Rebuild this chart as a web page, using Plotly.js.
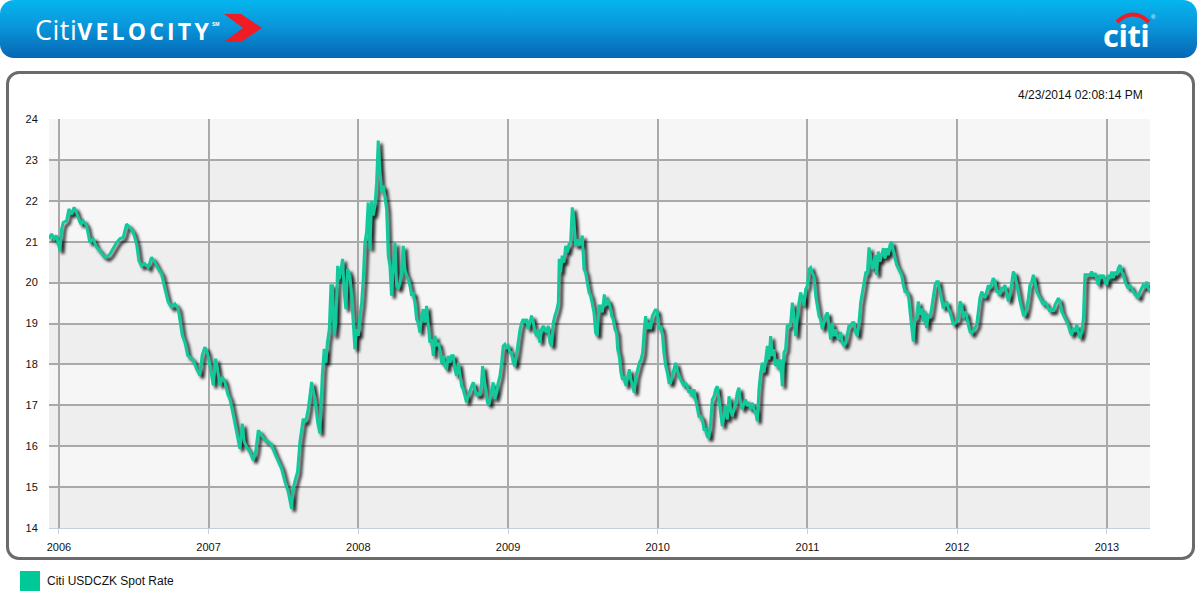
<!DOCTYPE html>
<html>
<head>
<meta charset="utf-8">
<script src="https://cdn.plot.ly/plotly-3.0.1.min.js"></script>
<style>
  html, body { margin:0; padding:0; background:#fff; width:1200px; height:607px; overflow:hidden; font-family:"Liberation Sans", Arial, sans-serif; }
  #hdr { position:absolute; left:0; top:0; width:1197px; height:58px; border-radius:14px;
         background:linear-gradient(to bottom, #05b6ee 0%, #0996da 45%, #0566b4 100%); z-index:5; }
  #brand { position:absolute; left:35px; top:11px; color:#fff; white-space:nowrap; }
  #brand .c { font-family:"Open Sans", sans-serif; font-weight:400; font-size:27px; letter-spacing:0.5px; }
  #brand .v { font-family:"Open Sans", sans-serif; font-weight:700; font-size:23px; letter-spacing:3.2px; }
  #brand .sm { font-size:5px; vertical-align:14px; font-weight:700; }
  #chev { position:absolute; left:224px; top:14px; }
  #logo { position:absolute; left:1103px; top:14px; color:#fff; font-family:"Open Sans", sans-serif; font-weight:700; font-size:31px; letter-spacing:-0.5px; }
  #arc { position:absolute; left:1114px; top:10px; }
  #reg { position:absolute; left:1151px; top:14px; color:#fff; font-size:6px; }
  #frame { position:absolute; left:6px; top:71px; width:1183px; height:483px; border:3px solid #6b6b6b; border-radius:13px; z-index:0; }
  #chart { position:absolute; left:0; top:0; width:1200px; height:607px; z-index:1; }
  #stamp { position:absolute; left:1018px; top:88px; font-size:12px; color:#111; z-index:2; }
  #leg { position:absolute; left:20px; top:571px; z-index:2; font-size:12px; color:#111; }
  #leg .sq { position:absolute; left:0; top:0; width:20px; height:20px; background:#00c896; }
  #leg .tx { position:absolute; left:27px; top:3px; white-space:nowrap; }
  #chart .scatterlayer .js-line { filter: drop-shadow(3px 3px 1.6px rgba(0,0,0,0.85)); }
</style>
</head>
<body>
<div id="hdr">
  <div id="brand"><span class="c">Citi</span><span class="v">VELOCITY</span><span class="sm">SM</span></div>
  <svg id="chev" width="40" height="30" viewBox="0 0 40 30"><polygon points="0,0 17,0 38,14 17,28 0,28 19,14" fill="#ee1c25"/></svg>
  <svg id="arc" width="38" height="14" viewBox="0 0 38 14"><path d="M3,12 Q19,-3 35,12" stroke="#ee1c25" stroke-width="4" fill="none"/></svg>
  <div id="logo">citi</div>
  <div id="reg">®</div>
</div>
<div id="frame"></div>
<div id="stamp">4/23/2014 02:08:14 PM</div>
<div id="chart"></div>
<div id="leg"><div class="sq"></div><div class="tx">Citi USDCZK Spot Rate</div></div>
<script>
// Decimal-year dates as labelled on the chart's axis
const dates = [
2005.933,2005.951,2005.969,2005.984,2006.007,2006.018,2006.029,2006.051,2006.067,2006.085,2006.102,2006.118,2006.129,2006.147,2006.163,2006.185,2006.207,2006.229,2006.252,2006.274,
2006.296,2006.318,2006.341,2006.363,2006.385,2006.407,2006.430,2006.452,2006.474,2006.497,2006.519,2006.534,2006.552,2006.574,2006.597,2006.619,2006.641,2006.664,2006.686,2006.708,
2006.730,2006.753,2006.775,2006.797,2006.808,2006.824,2006.842,2006.860,2006.875,2006.897,2006.920,2006.942,2006.957,2006.975,2006.991,2007.009,2007.031,2007.047,2007.060,2007.076,
2007.091,2007.109,2007.127,2007.142,2007.165,2007.187,2007.209,2007.225,2007.238,2007.254,2007.276,2007.298,2007.314,2007.332,2007.354,2007.376,2007.398,2007.421,2007.443,2007.465,
2007.487,2007.510,2007.532,2007.554,2007.565,2007.581,2007.594,2007.610,2007.632,2007.648,2007.666,2007.688,2007.710,2007.728,2007.743,2007.759,2007.772,
2007.784,2007.793,2007.806,2007.817,2007.828,2007.839,2007.850,2007.862,2007.873,2007.884,2007.895,2007.906,2007.917,2007.928,2007.944,2007.955,2007.966,2007.977,2007.988,2008.000,
2008.011,2008.022,2008.033,2008.044,2008.055,2008.066,2008.078,2008.089,2008.100,2008.111,2008.122,2008.133,2008.144,2008.155,2008.167,2008.178,2008.189,2008.200,2008.211,2008.222,
2008.233,2008.245,2008.256,2008.267,2008.278,2008.289,2008.300,2008.311,2008.322,2008.334,2008.345,2008.356,2008.367,2008.378,2008.389,2008.400,2008.411,2008.423,2008.434,2008.445,
2008.456,2008.467,2008.478,2008.489,2008.501,2008.512,2008.523,2008.534,2008.545,2008.556,2008.567,2008.579,2008.590,2008.601,2008.612,2008.623,2008.634,2008.645,2008.656,2008.668,
2008.679,2008.690,2008.701,2008.712,2008.723,2008.734,2008.746,2008.757,2008.768,2008.779,2008.790,2008.801,2008.812,2008.823,2008.830,2008.839,2008.850,2008.862,2008.873,2008.884,
2008.895,2008.901,2008.912,2008.924,2008.935,2008.946,2008.957,2008.968,2008.979,2008.990,2009.002,2009.013,2009.024,2009.035,2009.046,2009.057,2009.068,2009.080,2009.091,2009.102,
2009.113,2009.124,2009.135,2009.146,2009.157,2009.169,2009.180,2009.191,2009.202,2009.213,2009.224,2009.235,2009.246,2009.258,2009.269,2009.280,2009.291,2009.302,2009.313,2009.324,
2009.336,2009.342,2009.351,2009.362,2009.373,2009.385,2009.396,2009.407,2009.418,2009.429,2009.440,2009.451,2009.463,2009.474,2009.485,2009.496,2009.507,2009.518,2009.529,2009.541,
2009.552,2009.563,2009.574,2009.585,2009.596,2009.607,
2009.618,2009.630,2009.643,2009.654,2009.665,2009.681,2009.692,2009.703,2009.714,2009.725,2009.732,2009.743,2009.754,2009.765,2009.776,2009.788,2009.799,2009.810,2009.821,2009.832,
2009.843,2009.854,2009.866,2009.877,2009.888,2009.899,2009.910,2009.919,2009.930,2009.941,2009.952,2009.963,2009.975,2009.986,2009.997,2010.008,2010.019,2010.030,2010.041,2010.053,
2010.064,2010.075,2010.086,2010.097,2010.108,2010.119,2010.130,2010.142,2010.153,2010.164,2010.175,2010.186,2010.197,2010.208,2010.220,2010.231,2010.242,2010.253,2010.264,2010.275,
2010.286,2010.298,2010.309,2010.320,2010.331,2010.342,2010.353,2010.364,2010.376,2010.387,2010.398,2010.409,2010.420,2010.431,2010.442,2010.453,2010.465,2010.476,2010.487,2010.498,
2010.509,2010.520,2010.531,2010.542,2010.554,2010.565,2010.576,2010.587,2010.598,2010.609,2010.620,2010.632,2010.643,2010.654,2010.665,2010.676,2010.687,2010.698,2010.710,2010.721,
2010.732,2010.743,2010.754,2010.765,2010.776,2010.787,2010.799,2010.810,2010.821,2010.832,2010.843,2010.854,2010.865,2010.876,2010.888,2010.899,2010.910,2010.921,2010.932,2010.943,
2010.954,2010.966,2010.977,2010.988,2010.999,2011.010,2011.021,2011.032,2011.043,2011.055,2011.066,2011.077,2011.088,2011.099,2011.110,2011.121,2011.133,2011.144,2011.155,2011.166,
2011.177,2011.188,2011.199,2011.210,2011.222,2011.233,2011.244,2011.255,2011.266,2011.277,2011.288,2011.300,2011.311,2011.322,2011.333,2011.344,2011.355,2011.366,2011.377,2011.389,
2011.400,2011.411,2011.422,2011.433,2011.444,
2011.451,2011.462,2011.473,2011.484,2011.496,2011.507,2011.518,2011.529,2011.540,2011.551,2011.562,2011.573,2011.585,2011.596,2011.607,2011.618,2011.629,2011.640,2011.651,2011.662,
2011.674,2011.685,2011.696,2011.707,2011.718,2011.729,2011.740,2011.752,2011.763,2011.774,2011.785,2011.796,2011.807,2011.818,2011.829,2011.841,2011.852,2011.863,2011.874,2011.885,
2011.896,2011.907,2011.919,2011.930,2011.941,2011.952,2011.963,2011.974,2011.985,2011.996,2012.008,2012.019,2012.030,2012.041,2012.052,2012.063,2012.074,2012.086,2012.097,2012.108,
2012.119,2012.130,2012.141,2012.152,2012.164,2012.175,2012.186,2012.197,2012.208,2012.219,2012.230,2012.241,2012.253,2012.264,2012.275,2012.286,2012.297,2012.308,2012.319,2012.330,
2012.342,2012.353,2012.364,2012.375,2012.386,2012.397,2012.408,2012.420,2012.431,2012.442,2012.453,2012.464,2012.475,2012.486,2012.498,2012.509,2012.520,2012.531,2012.542,2012.553,
2012.564,2012.575,2012.587,2012.598,2012.609,2012.620,2012.631,2012.642,2012.653,2012.665,2012.676,2012.687,2012.698,2012.709,2012.720,2012.731,2012.742,2012.754,2012.765,2012.776,
2012.787,2012.798,2012.809,2012.820,2012.832,2012.843,2012.849,2012.854,2012.865,2012.876,2012.887,2012.898,2012.909,2012.921,2012.932,2012.943,2012.954,2012.965,2012.976,2012.988,
2012.999,2013.010,2013.021,2013.032,2013.043,2013.054,2013.065,2013.076,2013.088,2013.099,2013.110,2013.121,2013.132,2013.143,2013.154,2013.166,2013.177,2013.188,2013.199,2013.210,
2013.221,2013.232,2013.243,2013.255,2013.266,2013.277,2013.288
];

const rates = [
21.07,21.19,21.07,21.15,20.78,21.31,21.47,21.51,21.80,21.67,21.84,21.72,21.59,21.43,21.51,21.39,20.98,21.07,20.86,20.78,
20.66,20.62,20.70,20.86,20.98,21.07,21.11,21.43,21.35,21.23,20.94,20.54,20.41,20.46,20.37,20.62,20.50,20.33,20.21,19.85,
19.52,19.40,19.48,19.36,19.11,18.71,18.54,18.22,18.18,18.10,17.89,17.73,18.22,18.42,18.30,17.98,17.49,18.14,17.89,17.49,
17.69,17.57,17.28,17.16,16.76,16.35,15.94,16.55,16.11,15.98,15.86,15.66,15.86,16.39,16.27,16.15,16.11,16.02,15.82,15.62,
15.46,15.13,14.89,14.47,14.97,15.21,15.37,16.11,16.67,16.59,16.92,17.57,17.16,16.59,16.31,17.73,18.38,
18.04,18.53,18.86,19.92,19.92,18.70,19.02,20.41,20.09,20.33,20.58,19.76,19.35,20.33,20.17,19.68,18.94,18.37,18.86,18.70,
19.19,19.51,20.09,20.98,21.23,21.96,20.82,22.00,21.64,21.88,22.45,23.47,22.78,22.21,22.37,22.04,21.80,20.66,20.41,19.68,
20.25,20.98,19.92,19.84,20.00,20.25,20.90,20.33,20.17,20.09,19.92,19.68,19.76,19.51,19.11,19.02,18.78,19.19,19.35,19.02,
19.43,18.86,18.53,18.61,18.21,18.70,18.45,18.53,18.37,18.04,18.21,17.96,17.88,18.21,18.04,18.21,18.21,17.88,17.72,18.04,
17.80,17.47,17.39,17.23,17.07,17.23,17.39,17.47,17.56,17.39,17.23,17.31,17.23,17.56,17.96,17.72,17.39,17.07,17.02,17.23,
17.47,17.56,17.15,17.31,17.56,17.72,18.04,18.45,18.49,18.41,18.45,18.29,18.29,18.04,17.96,18.29,18.53,18.86,19.02,19.11,
19.02,19.11,18.86,19.02,19.19,19.02,18.78,18.70,18.86,18.53,18.86,18.94,18.86,18.78,18.94,18.53,18.45,19.02,19.19,19.31,
19.51,20.58,20.25,20.66,20.49,20.90,20.74,20.94,20.98,21.84,21.56,20.90,21.06,20.90,20.98,21.15,20.33,20.25,20.00,19.76,
19.68,19.51,19.27,18.78,18.70,19.43,
19.43,19.27,19.71,19.43,19.59,19.43,19.18,19.10,18.86,18.78,18.37,18.20,17.80,17.63,17.71,17.47,17.71,17.88,17.63,17.47,
17.31,17.71,17.88,18.04,18.12,18.29,18.86,19.18,18.86,19.02,18.86,19.18,19.27,19.35,19.27,18.86,18.94,18.78,18.29,17.96,
17.80,17.55,17.55,17.71,17.88,18.04,17.88,17.71,17.63,17.55,17.47,17.55,17.47,17.31,17.39,17.22,17.39,17.14,16.90,16.73,
16.73,16.65,16.41,16.41,16.24,16.20,16.57,17.14,17.22,17.39,17.47,17.14,16.90,16.49,16.73,16.98,16.65,17.22,16.90,16.73,
16.90,17.06,17.31,17.43,17.06,16.90,17.06,17.14,16.98,17.06,16.90,17.06,16.90,16.82,16.61,17.39,17.80,18.04,17.80,18.20,
18.45,18.12,18.69,18.20,18.37,17.96,18.12,17.88,18.12,17.47,18.29,18.37,18.94,18.94,19.02,19.51,19.18,18.69,19.18,19.51,
19.76,19.59,19.43,19.84,19.92,20.33,20.37,20.24,20.16,19.67,19.43,19.18,19.10,18.86,19.02,19.18,19.27,18.86,18.61,19.02,
18.69,18.86,18.69,18.61,18.78,18.53,18.45,18.53,18.78,18.94,18.94,19.02,19.02,18.78,18.69,19.02,19.51,19.76,20.08,20.24,
20.24,20.86,20.65,20.33,20.41,
20.67,20.19,20.76,20.51,20.67,20.84,20.59,20.84,20.67,20.92,21.00,20.76,20.59,20.43,20.35,20.27,20.19,19.94,19.78,19.78,
19.70,19.29,18.97,18.56,19.13,19.13,19.54,19.21,19.37,19.05,19.29,18.89,19.21,19.13,19.37,19.70,19.94,20.02,20.02,19.78,
19.54,19.37,19.46,19.54,19.37,19.29,19.13,18.97,19.01,19.05,19.13,19.54,19.46,19.13,19.29,19.21,18.97,18.80,18.76,18.84,
18.89,18.97,19.29,19.62,19.78,19.70,19.62,19.78,19.94,19.86,20.02,20.11,20.02,19.78,19.78,19.70,19.86,19.86,19.94,19.70,
19.54,19.70,19.94,20.27,20.19,20.02,19.78,19.54,19.37,19.21,19.21,19.37,19.62,19.94,20.02,20.19,20.02,19.78,19.70,19.62,
19.54,19.46,19.54,19.46,19.37,19.29,19.37,19.29,19.46,19.54,19.62,19.54,19.29,19.21,19.13,19.05,18.97,18.80,18.72,18.89,
18.80,18.97,18.80,18.64,18.80,19.13,19.78,20.19,20.19,20.19,20.19,20.27,20.15,20.23,20.11,19.94,20.19,20.11,20.19,20.02,
19.94,20.19,20.11,20.27,20.11,20.27,20.19,20.35,20.43,20.27,20.19,20.02,19.94,19.86,19.94,19.86,19.78,19.70,19.70,19.62,
19.78,19.86,19.94,19.90,20.02,19.86,19.78
];

const seriesName = "Citi USDCZK Spot Rate";
const yTicks = [14,15,16,17,18,19,20,21,22,23,24];
const xTickYears = [2006,2007,2008,2009,2010,2011,2012,2013];

const bands = [];
for (let i = 0; i < yTicks.length - 1; i++) {
  const lower = yTicks[i];
  bands.push({
    type: 'rect', xref: 'paper', yref: 'y', x0: 0, x1: 1, y0: lower, y1: yTicks[i+1],
    fillcolor: (i % 2 === 0) ? '#eeeeee' : '#f6f6f6', line: {width: 0}, layer: 'below'
  });
}

const trace = {
  x: dates, y: rates, type: 'scatter', mode: 'lines', name: seriesName,
  line: {color: '#12c99b', width: 3}, hoverinfo: 'skip'
};

const fontFam = '"Liberation Sans", Arial, sans-serif';
const layout = {
  width: 1200, height: 607,
  margin: {l: 49, r: 50, t: 119, b: 79},
  paper_bgcolor: 'rgba(0,0,0,0)', plot_bgcolor: 'rgba(0,0,0,0)',
  showlegend: false,
  font: {family: fontFam, size: 11, color: '#111'},
  xaxis: {
    type: 'linear', range: [2005.934, 2013.288],
    tickvals: xTickYears, ticktext: xTickYears.map(String),
    showgrid: true, gridcolor: '#a9a9a9', gridwidth: 2,
    zeroline: false, showline: true, linecolor: '#c3cfdd', linewidth: 1,
    ticks: 'outside', ticklen: 5, tickcolor: '#c3d2e2', tickwidth: 1,
    ticklabelstandoff: 4,
    tickfont: {family: fontFam, size: 11, color: '#111'}
  },
  yaxis: {
    range: [14, 24], tickvals: yTicks,
    showgrid: true, gridcolor: '#a9a9a9', gridwidth: 2,
    zeroline: false, showline: false,
    ticks: 'outside', ticklen: 8, tickcolor: 'rgba(0,0,0,0)',
    tickfont: {family: fontFam, size: 11, color: '#111'}
  },
  shapes: bands
};

Plotly.newPlot('chart', [trace], layout, {displayModeBar: false, staticPlot: true});
</script>
</body>
</html>
